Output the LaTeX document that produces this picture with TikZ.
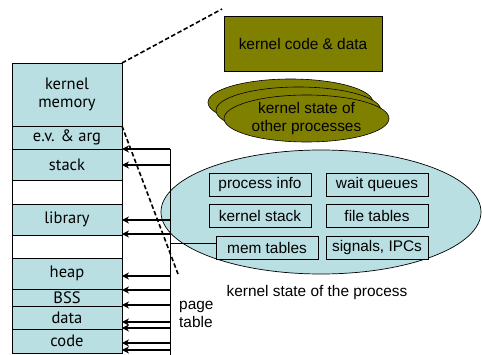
\documentclass[tikz,border=0pt]{standalone}
\usepackage{fontspec}
\setmainfont{Liberation Sans}
\newfontfamily\segfont{PT Sans}
\usetikzlibrary{shapes.geometric,arrows.meta}
\definecolor{lb}{RGB}{185,223,227}
\definecolor{olv}{RGB}{128,128,0}
\tikzset{
  seg/.style={draw, fill=lb, line width=0.8pt, minimum width=110pt, inner sep=0pt, outer sep=0pt, font=\segfont\fontsize{16.5}{18}\selectfont, align=center},
  gapseg/.style={seg, fill=white},
  inbox/.style={draw, fill=lb, line width=0.6pt, minimum width=102pt, minimum height=23pt, inner sep=0pt, font=\fontsize{15.4}{17}\selectfont},
  olvell/.style={ellipse, draw, fill=olv, line width=0.6pt, minimum width=165pt, minimum height=47pt, inner sep=0pt},
  parr/.style={line width=1.8pt, -{Stealth[length=7pt,width=7pt]}},
  dsh/.style={line width=1.6pt, dash pattern=on 4.5pt off 2.5pt},
  lbl/.style={font=\fontsize{15.4}{18}\selectfont, inner sep=0pt, align=center}
}
\begin{document}
\begin{tikzpicture}[x=1pt,y=-1pt]
\useasboundingbox (0,0) rectangle (482,355);
% left memory column
\node[seg, minimum height=63pt] (km) at (67,94.5) {kernel\\memory};
\node[seg, minimum height=23pt] (ev) at (67,137.5) {e.v. \& arg};
\node[seg, minimum height=31pt] (st) at (67,164.5) {stack};
\node[gapseg, minimum height=24pt] (g1) at (67,192) {};
\node[seg, minimum height=31pt] (lib) at (67,219.5) {library};
\node[gapseg, minimum height=23pt] (g2) at (67,246.5) {};
\node[seg, minimum height=31pt] (heap) at (67,273.5) {heap};
\node[seg, minimum height=17pt] (bss) at (67,297.5) {BSS};
\node[seg, minimum height=23pt] (data) at (67,317.5) {data};
\node[seg, minimum height=24pt] (code) at (67,341) {code};
% kernel code & data
\node[draw, fill=olv, line width=0.8pt, minimum width=158pt, minimum height=55pt, inner sep=0pt, font=\fontsize{15.4}{18}\selectfont] (kcd) at (303,43.5) {kernel code \& data};
% stacked ellipses
\node[olvell] (e3) at (290.5,102.5) {};
\node[olvell] (e2) at (298.5,110.5) {};
\node[olvell, lbl] (e1) at (306.5,118.5) {kernel state of\\other processes};
% process ellipse
\node[ellipse, draw, fill=lb, line width=0.7pt, minimum width=320pt, minimum height=124pt, inner sep=0pt] (proc) at (321,212) {};
\node[inbox] (pi) at (260,184.5) {process info};
\node[inbox] (wq) at (377,184.5) {wait queues};
\node[inbox] (ks) at (260,215.5) {kernel stack};
\node[inbox] (ft) at (377,215.5) {file tables};
\node[inbox] (mt) at (267,247.5) {mem tables};
\node[inbox] (sig) at (377,247.5) {signals, IPCs};
\node[lbl] (ksp) at (317,293) {kernel state of the process};
\node[lbl, align=left, anchor=west] (ptl) at (179,314) {page\\table};
% page table
\coordinate (pttop) at (170,149);
\coordinate (ptbot) at (170,355);
\draw[line width=0.8pt] (pttop) -- (ptbot);
\foreach \yy [count=\i] in {149,165,220,234,276,290,305,322,328,343,350}{
  \coordinate (pa\i) at (170,\yy);
  \draw[parr] (pa\i) -- (pa\i -| km.east);
}
\coordinate (ptm) at (170,243);
\draw[line width=0.6pt] (ptm) -- (ptm -| mt.west);
% dashed lines
\coordinate (d1) at (222,9);
\coordinate (d2) at (178,274);
\draw[dsh] (km.north east) -- (d1);
\draw[dsh] (ev.north east) -- (d2);
\end{tikzpicture}
\end{document}
